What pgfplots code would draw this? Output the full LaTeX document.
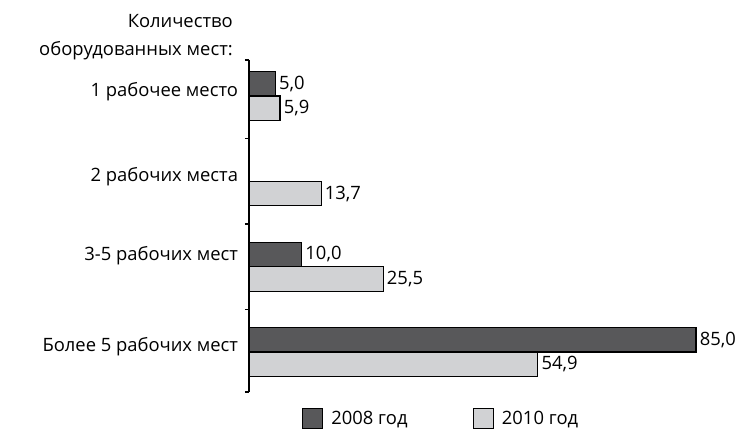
\documentclass[border=0pt]{standalone}
\usepackage{pgfplots}
\pgfplotsset{compat=1.18}
\usepackage{fontspec}
\setmainfont{Open Sans}
\definecolor{darkbar}{HTML}{58585A}
\definecolor{lightbar}{HTML}{D1D2D4}
\newcommand{\fs}{\fontsize{13.8}{17}\selectfont}
\begin{document}
\begin{tikzpicture}
\begin{axis}[
  at={(0pt,0pt)}, anchor=south west,
  scale only axis,
  width=335.25pt, height=249pt,
  xbar, bar width=18.4pt,
  xmin=0, xmax=85,
  ymin=-0.469, ymax=3.422,
  axis x line=none,
  axis y line=left,
  axis line style={-, line width=0.8pt, black},
  ytick={0,1.07,2,3},
  yticklabels={Более 5 рабочих мест, 3-5 рабочих мест, 2 рабочих места, 1 рабочее место},
  major tick length=0pt,
  yticklabel style={anchor=base east, font=\fs, xshift=-8pt, inner sep=0pt},
  extra y ticks={-0.469,0.5,1.5,2.5,3.422},
  extra y tick labels={},
  extra y tick style={tick align=outside, major tick length=3pt, tick style={line width=0.8pt, black}},
  /pgf/number format/assume math mode=true,
  nodes near coords={\pgfmathprintnumber[fixed,fixed zerofill,precision=1,use comma]{\pgfplotspointmeta}},
  nodes near coords style={anchor=west, font=\fs, inner sep=0pt, xshift=2.5pt},
  clip=false,
  legend columns=2,
  legend style={at={(0.1186,-0.048)}, anchor=north west, draw=none, fill=none,
    font=\fs, inner sep=0pt,
    /tikz/every odd column/.append style={column sep=4pt},
    /tikz/every even column/.append style={column sep=47pt}},
  legend image code/.code={\draw[#1] (0pt,-7.5pt) rectangle (15pt,7.5pt);},
]
\addplot[fill=darkbar, draw=black, line width=0.8pt, bar shift=9.2pt] coordinates {(85.0,0) (10.0,1) (5.0,3)};
\addlegendentry{2008 год}
\addplot[fill=lightbar, draw=black, line width=0.8pt, bar shift=-9.2pt] coordinates {(54.9,0) (25.5,1) (13.7,2) (5.9,3)};
\addlegendentry{2010 год}
\end{axis}
\node[anchor=base east, font=\fs, align=right, inner sep=0pt] at (-12pt, 252pt) {Количество\\[4pt]оборудованных мест:};
\useasboundingbox (-186.75pt,-29.25pt) rectangle (372pt,294pt);
\end{tikzpicture}
\end{document}
